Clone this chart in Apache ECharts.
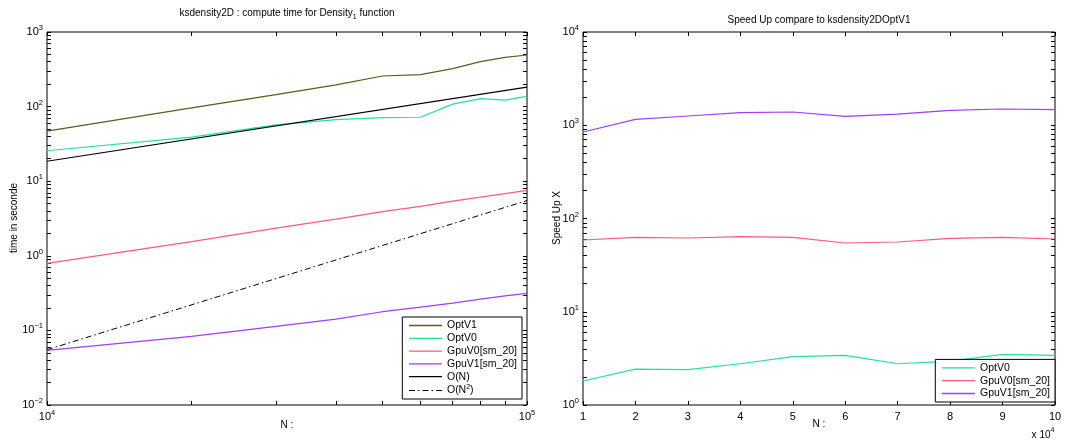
<!DOCTYPE html>
<html>
<head>
<meta charset="utf-8">
<script src="https://cdn.jsdelivr.net/npm/echarts@6/dist/echarts.min.js"></script>
<style>
  html, body { margin: 0; padding: 0; background: #ffffff; }
  #chart { width: 1067px; height: 441px; }
</style>
</head>
<body>
<div id="chart"></div>
<script>
// Problem sizes N, in units of 10^4 points
const nSizes = [1, 2, 3, 4, 5, 6, 7, 8, 9, 10];

// Compute time (seconds) of each implementation
const timeOptV1 = [47, 96, 145, 195, 257, 268, 323, 400, 458, 492];
const timeOptV0 = [25.6, 39, 57, 67, 71, 72, 108, 128, 122, 137];
const timeGpuV0 = [0.79, 1.55, 2.35, 3.1, 3.9, 4.6, 5.4, 6.1, 6.8, 7.55];
const timeGpuV1 = [0.054, 0.083, 0.113, 0.142, 0.178, 0.205, 0.232, 0.262, 0.29, 0.314];

// Complexity reference lines, given at both ends of the range
const refSizes = [1, 10];
const refOrderN = [18.5, 182];
const refOrderN2 = [0.055, 5.5];

// Speed up relative to ksdensity2DOptV1
const speedOptV0 = [1.81, 2.43, 2.39, 2.77, 3.30, 3.41, 2.77, 2.95, 3.49, 3.41];
const speedGpuV0 = [58.8, 62.8, 61.8, 63.8, 62.8, 54.6, 56.0, 61.3, 62.8, 60.3];
const speedGpuV1 = [847, 1158, 1256, 1365, 1387, 1248, 1319, 1445, 1493, 1469];

// Tick label text
const leftYExponents = [-2, -1, 0, 1, 2, 3];
const leftXExponents = [4, 5];
const rightYExponents = [0, 1, 2, 3, 4];
const rightXTicks = [1, 2, 3, 4, 5, 6, 7, 8, 9, 10];

const FONT = 'Liberation Sans, Arial, Helvetica, sans-serif';
const COLORS = {
  'OptV1': '#5f5b1a',
  'OptV0': '#1fe39c',
  'GpuV0[sm_20]': '#ff5a7e',
  'GpuV1[sm_20]': '#a23cff',
  'O(N)': '#000000',
  'O(N^2)': '#000000'
};
const DASH_DOT = [6, 3, 1.5, 3];

const SCALE = 1e4;

function pairs(xs, ys, k) { return xs.map((x, i) => [x * k, ys[i]]); }

// 1..9 x 10^e for every decade of the range
function logTicks(loExp, hiExp) {
  const out = [];
  for (let e = loExp; e < hiExp; e++) {
    for (let m = 1; m <= 9; m++) out.push(m * Math.pow(10, e));
  }
  out.push(Math.pow(10, hiExp));
  return out;
}

function powLabel(v) {
  const e = Math.round(Math.log10(v));
  const s = e < 0 ? '\u2212' + Math.abs(e) : String(e);
  return '{b|10}{s|' + s + '}';
}

const labelRich = {
  b: { fontSize: 11, lineHeight: 16, fontFamily: FONT, color: '#000' },
  s: { fontSize: 7.5, lineHeight: 8, verticalAlign: 'top', fontFamily: FONT, color: '#000' }
};

const tickBase = { show: true, inside: true, length: 4, lineStyle: { color: '#000', width: 1 } };

function logAxis(grid, pos, lo, hi, labelled, labelValues) {
  return {
    type: 'log', logBase: 10, gridIndex: grid, position: pos,
    min: Math.pow(10, lo), max: Math.pow(10, hi),
    axisLine: { show: false },
    splitLine: { show: false },
    axisTick: Object.assign({}, tickBase, { customValues: logTicks(lo, hi) }),
    axisLabel: labelled ? {
      show: true, margin: 4,
      customValues: labelValues.map(e => Math.pow(10, e)),
      formatter: powLabel, rich: labelRich
    } : { show: false }
  };
}

function linAxis(grid, pos, labelled) {
  return {
    type: 'value', gridIndex: grid, position: pos,
    min: 1, max: 10, interval: 1,
    axisLine: { show: false },
    splitLine: { show: false },
    axisTick: Object.assign({}, tickBase),
    axisLabel: labelled ? {
      show: true, margin: 6, fontSize: 11, fontFamily: FONT, color: '#000',
      customValues: rightXTicks, formatter: v => String(v)
    } : { show: false }
  };
}

function line(name, data, xi, yi, dashed) {
  return {
    type: 'line', name: name, data: data,
    xAxisIndex: xi, yAxisIndex: yi,
    symbol: 'none', silent: true,
    lineStyle: { color: COLORS[name], width: dashed ? 1 : 1.2, type: dashed ? DASH_DOT : 'solid' },
    itemStyle: { color: COLORS[name] }
  };
}

const legendText = {
  fontSize: 10.5, fontFamily: FONT, color: '#000',
  rich: {
    t: { fontSize: 10.5, lineHeight: 13, fontFamily: FONT, color: '#000' },
    s: { fontSize: 7, lineHeight: 7, verticalAlign: 'top', fontFamily: FONT, color: '#000' }
  }
};
function legendFormat(name) {
  if (name === 'O(N^2)') return '{t|O(N}{s|2}{t|)}';
  return '{t|' + name + '}';
}
function legendItem(name) {
  return {
    name: name,
    itemStyle: { opacity: 0 },
    lineStyle: {
      color: COLORS[name], opacity: 1,
      width: name === 'O(N^2)' ? 1 : 1.3,
      type: name === 'O(N^2)' ? DASH_DOT : 'solid'
    }
  };
}

const legendBase = {
  orient: 'vertical',
  itemWidth: 33, itemHeight: 12,
  padding: [3, 5, 3, 6],
  borderColor: '#000', borderWidth: 1, backgroundColor: '#fff',
  textStyle: legendText, formatter: legendFormat,
  selectedMode: false
};

const option = {
  animation: false,
  backgroundColor: '#ffffff',
  grid: [
    { left: 47, top: 32, width: 480, height: 373, show: true, borderColor: '#000', borderWidth: 1, backgroundColor: 'transparent' },
    { left: 583, top: 32, width: 472, height: 373, show: true, borderColor: '#000', borderWidth: 1, backgroundColor: 'transparent' }
  ],
  xAxis: [
    logAxis(0, 'bottom', 4, 5, true, leftXExponents),
    logAxis(0, 'top', 4, 5, false),
    linAxis(1, 'bottom', true),
    linAxis(1, 'top', false)
  ],
  yAxis: [
    logAxis(0, 'left', -2, 3, true, leftYExponents),
    logAxis(0, 'right', -2, 3, false),
    logAxis(1, 'left', 0, 4, true, rightYExponents),
    logAxis(1, 'right', 0, 4, false)
  ],
  legend: [
    Object.assign({}, legendBase, {
      data: ['OptV1', 'OptV0', 'GpuV0[sm_20]', 'GpuV1[sm_20]', 'O(N)', 'O(N^2)'].map(legendItem),
      right: 545, bottom: 42, itemGap: 1.8
    }),
    Object.assign({}, legendBase, {
      data: ['OptV0', 'GpuV0[sm_20]', 'GpuV1[sm_20]'].map(legendItem),
      right: 12, bottom: 39, itemGap: 1.8
    })
  ],
  series: [
    line('OptV1', pairs(nSizes, timeOptV1, SCALE), 0, 0),
    line('OptV0', pairs(nSizes, timeOptV0, SCALE), 0, 0),
    line('GpuV0[sm_20]', pairs(nSizes, timeGpuV0, SCALE), 0, 0),
    line('GpuV1[sm_20]', pairs(nSizes, timeGpuV1, SCALE), 0, 0),
    line('O(N)', pairs(refSizes, refOrderN, SCALE), 0, 0),
    line('O(N^2)', pairs(refSizes, refOrderN2, SCALE), 0, 0, true),

    line('OptV0', pairs(nSizes, speedOptV0, 1), 2, 2),
    line('GpuV0[sm_20]', pairs(nSizes, speedGpuV0, 1), 2, 2),
    line('GpuV1[sm_20]', pairs(nSizes, speedGpuV1, 1), 2, 2)
  ],
  graphic: [
    {
      type: 'text',
      style: {
        text: '{t|ksdensity2D : compute time for Density}{u|1}{t| function}',
        x: 287, y: 13, align: 'center', verticalAlign: 'middle',
        rich: {
          t: { fontSize: 10, lineHeight: 16, fontFamily: FONT, fill: '#000' },
          u: { fontSize: 7, lineHeight: 8, verticalAlign: 'bottom', fontFamily: FONT, fill: '#000' }
        }
      }
    },
    {
      type: 'text',
      style: { text: 'Speed Up compare to ksdensity2DOptV1', x: 819, y: 20, align: 'center', verticalAlign: 'middle',
        fontSize: 10, fontFamily: FONT, fill: '#000' }
    },
    {
      type: 'text',
      style: { text: 'N :', x: 287, y: 425, align: 'center', verticalAlign: 'middle', fontSize: 10, fontFamily: FONT, fill: '#000' }
    },
    {
      type: 'text',
      style: { text: 'N :', x: 819, y: 424, align: 'center', verticalAlign: 'middle', fontSize: 10, fontFamily: FONT, fill: '#000' }
    },
    {
      type: 'text', x: 14, y: 218, rotation: Math.PI / 2,
      style: { text: 'time in seconde', x: 0, y: 0, align: 'center', verticalAlign: 'middle', fontSize: 10, fontFamily: FONT, fill: '#000' }
    },
    {
      type: 'text', x: 557, y: 218, rotation: Math.PI / 2,
      style: { text: 'Speed Up X', x: 0, y: 0, align: 'center', verticalAlign: 'middle', fontSize: 10, fontFamily: FONT, fill: '#000' }
    },
    {
      type: 'text',
      style: {
        text: '{b|x 10}{s|4}', x: 1043, y: 435, align: 'center', verticalAlign: 'middle',
        rich: {
          b: { fontSize: 10, lineHeight: 16, fontFamily: FONT, fill: '#000' },
          s: { fontSize: 7, lineHeight: 8, verticalAlign: 'top', fontFamily: FONT, fill: '#000' }
        }
      }
    }
  ]
};

const chart = echarts.init(document.getElementById('chart'), null, { renderer: 'canvas' });
chart.setOption(option);
</script>
</body>
</html>
